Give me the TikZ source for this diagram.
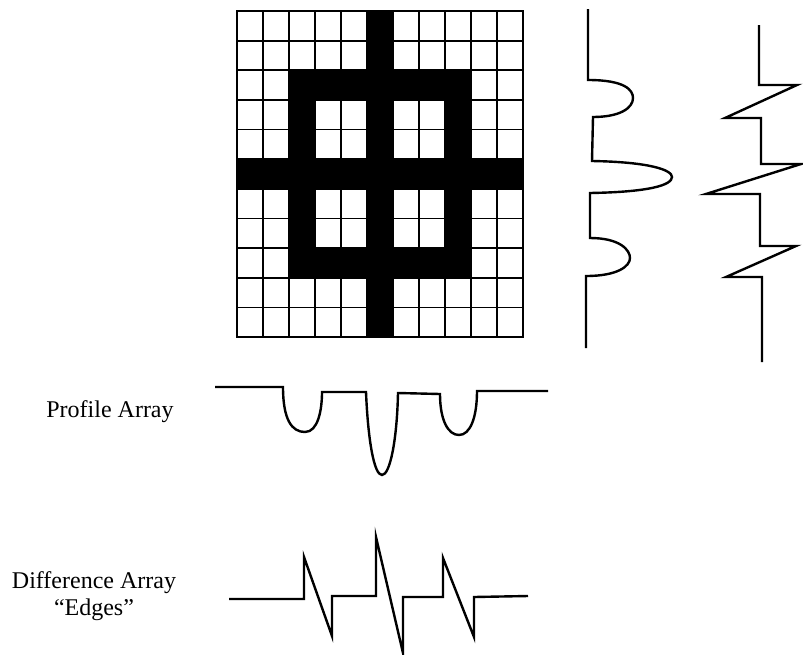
\documentclass[tikz,border=0pt]{standalone}
\usepackage{fontspec}
\setmainfont{Liberation Serif}
\usepackage{tikz}

\begin{document}
\begin{tikzpicture}[
  x=1pt, y=-1pt,
  trace/.style={draw=black, line width=2.4pt, line join=miter},
  cellline/.style={draw=black, line width=1.8pt, line cap=rect},
  lbl/.style={font=\fontsize{24}{27}\selectfont, align=center, inner sep=0pt}
]
\useasboundingbox (0,0) rectangle (803,654);

% pixel array, 11 x 11 cells
\begin{scope}[shift={(237,11)}, x=26pt, y=-29.64pt]
  \fill[black] (5,0) rectangle (6,11);
  \fill[black] (0,5) rectangle (11,6);
  \fill[black, even odd rule] (2,2) rectangle (9,9) (3,3) rectangle (8,8);
  \foreach \i in {0,...,11} {
    \draw[cellline] (\i,0) -- (\i,11);
    \draw[cellline] (0,\i) -- (11,\i);
  }
\end{scope}

% row profile (right of the array)
\draw[trace] (588,9) -- (588,80)
  .. controls (625,80) and (633,90) .. (633,98)
  .. controls (633,108) and (620,117) .. (593,117) -- (592,161)
  .. controls (650,162) and (672,170) .. (672,177)
  .. controls (672,185) and (650,192) .. (590,193) -- (590,238)
  .. controls (620,238) and (630,250) .. (630,258)
  .. controls (630,266) and (618,276) .. (586,276) -- (586,348);

% row difference (edges)
\draw[trace] (759,25) -- (759,85) -- (797,85) -- (725,118) -- (761,118)
  -- (761,164) -- (801,164) -- (706,194) -- (760,194) -- (760,246)
  -- (796,246) -- (726,277) -- (762,277) -- (762,362);

% column profile
\draw[trace] (215,387) -- (283,387)
  .. controls (283,420) and (292,432) .. (305,432)
  .. controls (318,432) and (322,410) .. (322,392) -- (366,392)
  .. controls (368,440) and (374,475) .. (382,475)
  .. controls (390,475) and (397,440) .. (398,393) -- (440,394)
  .. controls (440,420) and (448,435) .. (459,435)
  .. controls (470,435) and (477,418) .. (477,391) -- (548,391);

% column difference (edges)
\draw[trace] (229,599) -- (304,599) -- (304,557) -- (332,636) -- (332,596)
  -- (376,596) -- (376,537) -- (403,653) -- (403,597) -- (443,597)
  -- (443,558) -- (474,637) -- (474,597) -- (528,596);

\node[lbl] (profile) at (110,412) {Profile Array};
\node[lbl] (diff) at (94,596) {Difference Array\\“Edges”};
\end{tikzpicture}
\end{document}
